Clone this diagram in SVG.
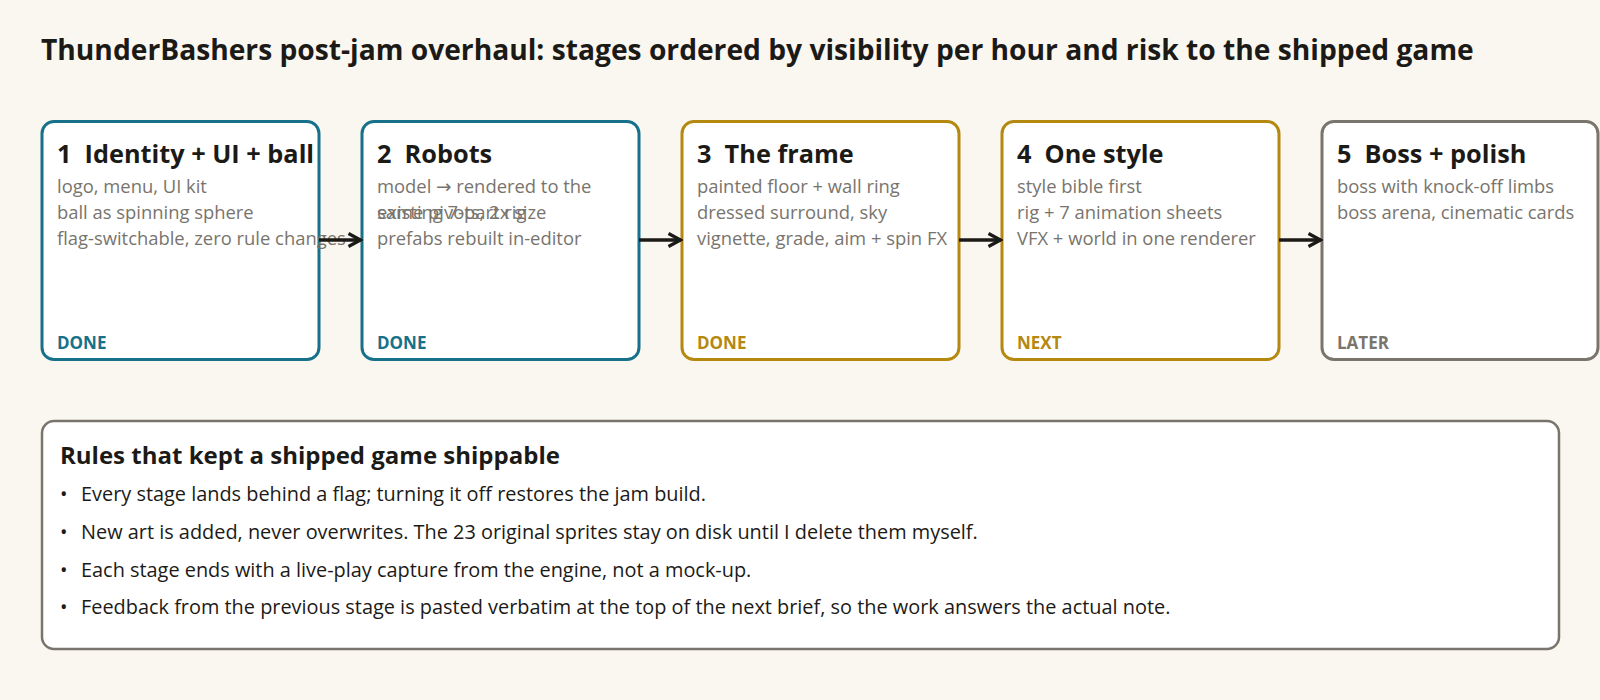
<svg xmlns="http://www.w3.org/2000/svg" width="1600" height="700" viewBox="0 0 1600 700">
<defs>
<style>
text{font-family:"Open Sans","Noto Sans","DejaVu Sans",sans-serif}
.title{font-size:28.2px;font-weight:700;fill:#1c1a17}
.h{font-size:25.3px;font-weight:700;fill:#1c1a17}
.ph{font-size:24px;font-weight:700;fill:#1c1a17}
.b{font-size:18.4px;fill:#78746d}
.st{font-size:17px;font-weight:700}
.li{font-size:19.9px;fill:#1c1a17}
.box{fill:#ffffff;stroke-width:3}
.teal{stroke:#17718a}
.gold{stroke:#b5880f}
.grey{stroke:#7a756c}
.conn{stroke:#1c1a17;stroke-width:3.5;fill:none}
</style>
<marker id="arr" viewBox="0 0 16 16" refX="14.5" refY="8" markerWidth="16" markerHeight="16" markerUnits="userSpaceOnUse" orient="auto">
<path d="M2,1.5 L14,8 L2,14.5" fill="none" stroke="#1c1a17" stroke-width="3.2"/>
</marker>
</defs>
<rect width="1600" height="700" fill="#faf7f0"/>
<text class="title" x="41" y="60">ThunderBashers post-jam overhaul: stages ordered by visibility per hour and risk to the shipped game</text>
<g id="stage1">
<rect class="box teal" x="42" y="121.5" width="277" height="238" rx="12"/>
<text class="h" x="57" y="163" xml:space="preserve">1  Identity + UI + ball</text>
<text class="b" x="57" y="193">logo, menu, UI kit</text>
<text class="b" x="57" y="219">ball as spinning sphere</text>
<text class="b" x="57" y="245">flag-switchable, zero rule changes</text>
<text class="st" x="57" y="349" fill="#17718a">DONE</text>
</g>
<g id="stage2">
<rect class="box teal" x="362" y="121.5" width="277" height="238" rx="12"/>
<text class="h" x="377" y="163" xml:space="preserve">2  Robots</text>
<text class="b" x="377" y="193">model → rendered to the</text>
<text class="b" x="377" y="219">existing 7-part rig</text>
<text class="b" x="377" y="219">same pivots, 2x size</text>
<text class="b" x="377" y="245">prefabs rebuilt in-editor</text>
<text class="st" x="377" y="349" fill="#17718a">DONE</text>
</g>
<g id="stage3">
<rect class="box gold" x="682" y="121.5" width="277" height="238" rx="12"/>
<text class="h" x="697" y="163" xml:space="preserve">3  The frame</text>
<text class="b" x="697" y="193">painted floor + wall ring</text>
<text class="b" x="697" y="219">dressed surround, sky</text>
<text class="b" x="697" y="245">vignette, grade, aim + spin FX</text>
<text class="st" x="697" y="349" fill="#b5880f">DONE</text>
</g>
<g id="stage4">
<rect class="box gold" x="1002" y="121.5" width="277" height="238" rx="12"/>
<text class="h" x="1017" y="163" xml:space="preserve">4  One style</text>
<text class="b" x="1017" y="193">style bible first</text>
<text class="b" x="1017" y="219">rig + 7 animation sheets</text>
<text class="b" x="1017" y="245">VFX + world in one renderer</text>
<text class="st" x="1017" y="349" fill="#b5880f">NEXT</text>
</g>
<g id="stage5">
<rect class="box grey" x="1322" y="121.5" width="276" height="238" rx="12"/>
<text class="h" x="1337" y="163" xml:space="preserve">5  Boss + polish</text>
<text class="b" x="1337" y="193">boss with knock-off limbs</text>
<text class="b" x="1337" y="219">boss arena, cinematic cards</text>
<text class="st" x="1337" y="349" fill="#7a756c">LATER</text>
</g>
<g id="connectors">
<line class="conn" x1="319" y1="240" x2="361" y2="240" marker-end="url(#arr)"/>
<line class="conn" x1="639" y1="240" x2="681" y2="240" marker-end="url(#arr)"/>
<line class="conn" x1="959" y1="240" x2="1001" y2="240" marker-end="url(#arr)"/>
<line class="conn" x1="1279" y1="240" x2="1321" y2="240" marker-end="url(#arr)"/>
</g>
<g id="rules">
<rect x="42" y="421" width="1517" height="228" rx="12" fill="#ffffff" stroke="#7a756c" stroke-width="2.5"/>
<text class="ph" x="60" y="464">Rules that kept a shipped game shippable</text>
<text class="li" x="60" y="501">•</text>
<text class="li" x="81" y="501">Every stage lands behind a flag; turning it off restores the jam build.</text>
<text class="li" x="60" y="539">•</text>
<text class="li" x="81" y="539">New art is added, never overwrites. The 23 original sprites stay on disk until I delete them myself.</text>
<text class="li" x="60" y="577">•</text>
<text class="li" x="81" y="577">Each stage ends with a live-play capture from the engine, not a mock-up.</text>
<text class="li" x="60" y="614">•</text>
<text class="li" x="81" y="614">Feedback from the previous stage is pasted verbatim at the top of the next brief, so the work answers the actual note.</text>
</g>
</svg>
